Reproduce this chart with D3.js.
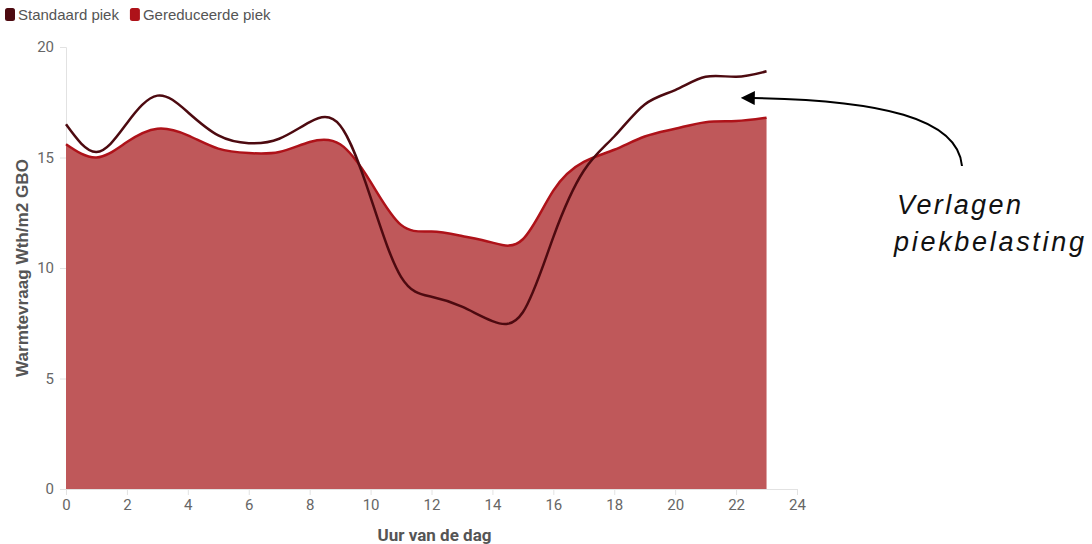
<!DOCTYPE html>
<html>
<head>
<meta charset="utf-8">
<script src="https://cdn.jsdelivr.net/npm/d3@7"></script>
<style>
  body { margin: 0; background: #fff; }
  svg { display: block; }
</style>
</head>
<body>
<div id="wrapper"></div>
<script>
// data
const hours = d3.range(0, 24)
const standaardPiek = [16.5, 15.25, 16.55, 17.8, 17.05, 16.0, 15.65, 15.85, 16.6, 16.45, 13.2, 9.6,
  8.7, 8.25, 7.6, 8.0, 11.4, 14.4, 15.95, 17.4, 18.05, 18.65, 18.65, 18.9]
const gereduceerdePiek = [15.6, 15.0, 15.7, 16.3, 16.0, 15.4, 15.2, 15.25, 15.7, 15.6, 13.9, 11.95,
  11.65, 11.45, 11.15, 11.3, 13.5, 14.8, 15.35, 15.95, 16.3, 16.6, 16.65, 16.8]
const seriesNames = ['Standaard piek', 'Gereduceerde piek']
const seriesColors = ['#4d0a10', '#ae1219']
const xTicks = d3.range(0, 25, 2)
const yTicks = [0, 5, 10, 15, 20]

const dimensions = {
  width: 1092,
  height: 544,
  margin: { top: 47, right: 295, bottom: 55, left: 66 },
}
dimensions.boundedWidth = dimensions.width - dimensions.margin.left - dimensions.margin.right
dimensions.boundedHeight = dimensions.height - dimensions.margin.top - dimensions.margin.bottom

const wrapper = d3.select('#wrapper').append('svg')
  .attr('width', dimensions.width)
  .attr('height', dimensions.height)

const bounds = wrapper.append('g')
  .attr('transform', `translate(${dimensions.margin.left},${dimensions.margin.top})`)

const xScale = d3.scaleLinear().domain([0, 24]).range([0, dimensions.boundedWidth])
const yScale = d3.scaleLinear().domain([0, 20]).range([dimensions.boundedHeight, 0])

const tickFont = '"Liberation Sans Narrow", "Roboto", sans-serif'

// axes
const yAxis = bounds.append('g')
  .call(d3.axisLeft(yScale).tickValues(yTicks).tickSize(6).tickPadding(6))
yAxis.select('.domain').attr('stroke', '#e2e2e2')
yAxis.selectAll('.tick line').attr('stroke', '#e2e2e2')
yAxis.selectAll('text').attr('fill', '#666').style('font', `15px ${tickFont}`)

const xAxis = bounds.append('g')
  .attr('transform', `translate(0,${dimensions.boundedHeight})`)
  .call(d3.axisBottom(xScale).tickValues(xTicks).tickSize(6).tickPadding(4))
xAxis.select('.domain').attr('stroke', '#e2e2e2')
xAxis.selectAll('.tick line').attr('stroke', '#e2e2e2')
xAxis.selectAll('text').attr('fill', '#666').style('font', `15px ${tickFont}`)

// area + lines
const rows = hours.map((h, i) => ({ h, s: standaardPiek[i], g: gereduceerdePiek[i] }))
const curve = d3.curveNatural

const areaGen = d3.area()
  .x((d) => xScale(d.h))
  .y0(yScale(0))
  .y1((d) => yScale(d.g))
  .curve(curve)

bounds.append('path')
  .attr('d', areaGen(rows))
  .attr('fill', '#bf585a')

const lineG = d3.line().x((d) => xScale(d.h)).y((d) => yScale(d.g)).curve(curve)
const lineS = d3.line().x((d) => xScale(d.h)).y((d) => yScale(d.s)).curve(curve)

bounds.append('path')
  .attr('d', lineG(rows))
  .attr('fill', 'none')
  .attr('stroke', seriesColors[1])
  .attr('stroke-width', 2.5)

bounds.append('path')
  .attr('d', lineS(rows))
  .attr('fill', 'none')
  .attr('stroke', seriesColors[0])
  .attr('stroke-width', 2.5)

// axis titles
wrapper.append('text')
  .attr('x', dimensions.margin.left + xScale(12.1))
  .attr('y', 541)
  .attr('text-anchor', 'middle')
  .attr('fill', '#555')
  .style('font', `bold 17px ${tickFont}`)
  .text('Uur van de dag')

wrapper.append('text')
  .attr('transform', `translate(28,${dimensions.margin.top + yScale(10)}) rotate(-90)`)
  .attr('text-anchor', 'middle')
  .attr('fill', '#555')
  .attr('textLength', 218)
  .attr('lengthAdjust', 'spacingAndGlyphs')
  .style('font', 'bold 16px "Liberation Sans", sans-serif')
  .text('Warmtevraag Wth/m2 GBO')

// legend
const legend = wrapper.append('g').attr('transform', 'translate(5,8)')
let lx = 0
seriesNames.forEach((name, i) => {
  const item = legend.append('g').attr('transform', `translate(${lx},0)`)
  item.append('rect')
    .attr('width', 10).attr('height', 13).attr('rx', 2.5)
    .attr('fill', seriesColors[i])
  const t = item.append('text')
    .attr('x', 13).attr('y', 12)
    .attr('fill', '#555')
    .style('font', '15px "Liberation Sans", sans-serif')
    .text(name)
  lx += 13 + t.node().getComputedTextLength() + 11
})

// annotation
const defs = wrapper.append('defs')
defs.append('marker')
  .attr('id', 'arrow')
  .attr('viewBox', '0 0 10 10')
  .attr('refX', 2).attr('refY', 5)
  .attr('markerWidth', 7).attr('markerHeight', 7)
  .attr('orient', 'auto-start-reverse')
  .append('path')
  .attr('d', 'M0,0 L10,5 L0,10 z')
  .attr('fill', '#000')

wrapper.append('path')
  .attr('d', 'M962,166 C958,118 880,100 752,98')
  .attr('fill', 'none')
  .attr('stroke', '#000')
  .attr('stroke-width', 2)
  .attr('marker-end', 'url(#arrow)')

const note = wrapper.append('text')
  .attr('fill', '#111')
  .style('font', 'italic 27px "Liberation Sans", sans-serif')
note.append('tspan').attr('x', 897).attr('y', 214)
  .attr('textLength', 124).attr('lengthAdjust', 'spacing').text('Verlagen')
note.append('tspan').attr('x', 894).attr('y', 251)
  .attr('textLength', 190).attr('lengthAdjust', 'spacing').text('piekbelasting')
</script>
</body>
</html>
